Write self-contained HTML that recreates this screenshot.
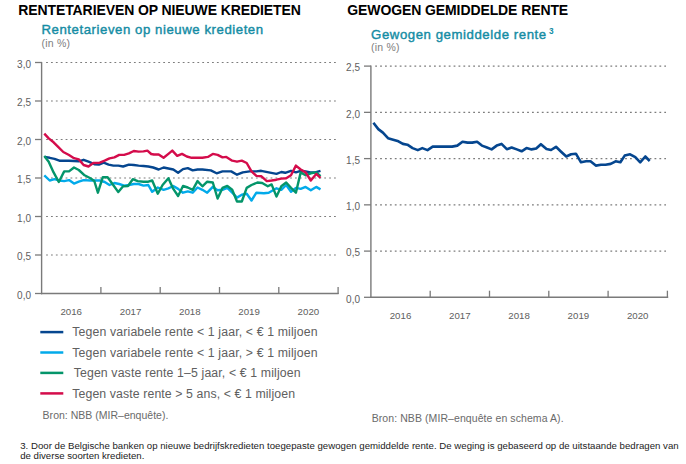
<!DOCTYPE html>
<html><head><meta charset="utf-8"><style>
html,body{margin:0;padding:0;background:#fff;width:686px;height:464px;overflow:hidden}
svg{display:block}
text{font-family:"Liberation Sans",sans-serif}
.ttl{font-size:14px;font-weight:bold;fill:#000}
.sub{font-size:13.2px;fill:#148ca4;stroke:#148ca4;stroke-width:0.4px}
.pct{font-size:10.5px;fill:#7e7e7e}
.ax{font-size:10px;fill:#606060}
.yr{font-size:9.7px;fill:#606060}
.lg{font-size:12.3px;fill:#606060}
.src{font-size:10.5px;fill:#6a6a6a}
.fn{font-size:9.65px;fill:#222}
</style></head><body>
<svg width="686" height="464" viewBox="0 0 686 464">
<rect width="686" height="464" fill="#fff"/>
<text x="18.2" y="14.9" class="ttl" textLength="282.7" lengthAdjust="spacing">RENTETARIEVEN OP NIEUWE KREDIETEN</text>
<text x="347.3" y="15" class="ttl" textLength="220.9" lengthAdjust="spacing">GEWOGEN GEMIDDELDE RENTE</text>
<text x="41.5" y="34.2" class="sub" textLength="221.6" lengthAdjust="spacing">Rentetarieven op nieuwe kredieten</text>
<text x="41.5" y="46.6" class="pct" textLength="28.5" lengthAdjust="spacing">(in %)</text>
<text x="371.1" y="38.5" class="sub" textLength="175" lengthAdjust="spacing">Gewogen gemiddelde rente</text>
<text x="549" y="34.4" style="font-size:8.3px;fill:#148ca4;font-weight:bold">3</text>
<text x="371.1" y="51" class="pct" textLength="28.5" lengthAdjust="spacing">(in %)</text>
<line x1="46.1" y1="62.5" x2="337" y2="62.5" stroke="#7c7c7c" stroke-width="1.1" stroke-dasharray="1.8 3.08"/>
<line x1="46.1" y1="101" x2="337" y2="101" stroke="#7c7c7c" stroke-width="1.1" stroke-dasharray="1.8 3.08"/>
<line x1="46.1" y1="139.5" x2="337" y2="139.5" stroke="#7c7c7c" stroke-width="1.1" stroke-dasharray="1.8 3.08"/>
<line x1="46.1" y1="178" x2="337" y2="178" stroke="#7c7c7c" stroke-width="1.1" stroke-dasharray="1.8 3.08"/>
<line x1="46.1" y1="216.5" x2="337" y2="216.5" stroke="#7c7c7c" stroke-width="1.1" stroke-dasharray="1.8 3.08"/>
<line x1="46.1" y1="255" x2="337" y2="255" stroke="#7c7c7c" stroke-width="1.1" stroke-dasharray="1.8 3.08"/>
<line x1="35" y1="62.5" x2="42" y2="62.5" stroke="#7a7a7a" stroke-width="1.3"/>
<line x1="35" y1="101" x2="42" y2="101" stroke="#7a7a7a" stroke-width="1.3"/>
<line x1="35" y1="139.5" x2="42" y2="139.5" stroke="#7a7a7a" stroke-width="1.3"/>
<line x1="35" y1="178" x2="42" y2="178" stroke="#7a7a7a" stroke-width="1.3"/>
<line x1="35" y1="216.5" x2="42" y2="216.5" stroke="#7a7a7a" stroke-width="1.3"/>
<line x1="35" y1="255" x2="42" y2="255" stroke="#7a7a7a" stroke-width="1.3"/>
<line x1="35" y1="293.5" x2="42" y2="293.5" stroke="#7a7a7a" stroke-width="1.3"/>
<text x="31" y="67.8" text-anchor="end" class="ax">3,0</text>
<text x="31" y="106.3" text-anchor="end" class="ax">2,5</text>
<text x="31" y="144.8" text-anchor="end" class="ax">2,0</text>
<text x="31" y="183.3" text-anchor="end" class="ax">1,5</text>
<text x="31" y="221.8" text-anchor="end" class="ax">1,0</text>
<text x="31" y="260.3" text-anchor="end" class="ax">0,5</text>
<text x="31" y="298.8" text-anchor="end" class="ax">0,0</text>
<line x1="41.6" y1="62" x2="41.6" y2="294.2" stroke="#7a7a7a" stroke-width="1.4"/>
<line x1="41" y1="293.5" x2="338.6" y2="293.5" stroke="#7a7a7a" stroke-width="1.4"/>
<line x1="100.9" y1="287" x2="100.9" y2="294" stroke="#7a7a7a" stroke-width="1.3"/>
<line x1="160.2" y1="287" x2="160.2" y2="294" stroke="#7a7a7a" stroke-width="1.3"/>
<line x1="219.5" y1="287" x2="219.5" y2="294" stroke="#7a7a7a" stroke-width="1.3"/>
<line x1="278.8" y1="287" x2="278.8" y2="294" stroke="#7a7a7a" stroke-width="1.3"/>
<line x1="338.1" y1="287" x2="338.1" y2="294" stroke="#7a7a7a" stroke-width="1.3"/>
<text x="71.2" y="314.6" text-anchor="middle" class="yr">2016</text>
<text x="130.6" y="314.6" text-anchor="middle" class="yr">2017</text>
<text x="189.8" y="314.6" text-anchor="middle" class="yr">2018</text>
<text x="249.1" y="314.6" text-anchor="middle" class="yr">2019</text>
<text x="308.4" y="314.6" text-anchor="middle" class="yr">2020</text>
<polyline points="44.3,156.9 49.7,157.8 54.5,158.8 59.4,160.7 69.0,160.7 78.8,161.3 83.6,159.8 88.5,161.7 94.3,164.2 98.9,164.6 103.7,162.7 108.6,164.6 113.4,165.6 118.3,165.6 123.1,166.5 128.9,164.6 133.8,165.0 138.6,165.6 143.5,166.0 148.3,166.5 153.2,167.5 158.7,169.5 163.6,167.5 168.4,168.5 173.3,169.5 178.1,172.8 183.0,169.1 187.8,168.1 192.7,170.4 197.5,169.5 202.4,169.5 210.8,170.4 216.6,173.3 222.5,171.4 231.2,171.4 237.0,174.7 242.8,172.4 249.6,171.4 256.4,171.4 261.2,170.8 268.7,172.4 276.5,173.9 281.3,172.0 285.2,172.8 291.0,170.8 295.9,172.4 300.7,170.8 305.6,171.4 310.4,172.4 315.3,172.4 320.5,170.8" fill="none" stroke="#05468f" stroke-width="2.4" stroke-linejoin="round"/>
<polyline points="44.3,175.3 49.7,180.5 54.5,179.2 59.4,180.5 64.2,181.1 69.0,180.1 74.0,183.6 78.8,181.7 83.6,180.1 90.4,180.5 99.8,180.5 104.7,182.0 109.5,185.0 114.4,183.0 119.2,184.0 124.1,185.6 128.9,185.0 133.8,184.0 138.6,184.0 143.5,185.6 148.3,185.0 152.2,191.8 157.8,187.5 163.6,189.8 168.4,188.3 173.3,186.0 178.1,188.9 183.0,192.7 187.8,191.4 192.7,192.7 197.5,187.5 202.4,189.8 207.2,192.7 212.8,186.9 217.6,190.2 222.5,189.8 227.3,187.9 232.2,192.7 237.0,197.6 241.8,194.7 246.7,193.7 251.5,200.5 256.4,192.7 263.9,193.3 268.7,192.7 276.5,188.3 281.3,189.8 286.2,185.0 291.0,191.8 295.9,187.9 300.7,188.9 305.6,186.9 310.8,190.2 316.2,186.9 320.5,189.4" fill="none" stroke="#02aaea" stroke-width="2.4" stroke-linejoin="round"/>
<polyline points="44.3,155.9 48.7,161.7 53.6,172.4 58.8,182.0 64.2,171.4 69.0,171.4 74.0,167.5 78.8,170.0 84.6,175.3 90.4,178.2 94.3,181.0 97.9,192.7 102.8,177.2 107.6,177.2 112.5,184.0 118.3,192.1 123.1,186.3 128.0,186.0 132.8,179.2 137.7,181.1 143.5,181.7 148.3,181.7 152.2,180.5 157.8,193.7 162.6,185.0 168.4,178.2 173.3,188.9 178.1,196.0 183.0,186.0 187.8,187.5 192.7,189.8 197.5,181.1 202.4,186.3 207.2,181.7 212.8,182.5 217.6,198.5 222.5,187.9 227.3,185.9 232.2,189.8 237.0,201.5 241.8,201.5 246.7,187.9 251.5,185.0 257.4,182.5 262.2,183.0 267.8,186.3 271.6,184.4 276.5,196.6 281.3,186.3 286.2,182.5 291.0,187.9 295.9,192.7 300.7,172.4 305.6,175.3 310.8,173.3 316.2,172.4 320.5,176.2" fill="none" stroke="#04956a" stroke-width="2.4" stroke-linejoin="round"/>
<polyline points="44.3,133.6 48.7,138.4 53.6,142.3 58.4,147.2 63.3,152.0 69.0,155.0 74.0,158.2 78.8,159.4 83.6,165.0 88.5,166.5 93.3,163.0 99.8,162.7 104.7,160.7 109.5,158.4 114.4,157.4 119.2,154.9 124.1,154.9 128.9,153.4 133.8,151.0 138.6,151.6 143.5,151.4 147.4,150.6 151.2,154.0 153.9,154.5 158.7,154.5 163.6,157.8 168.4,153.9 172.3,150.6 177.2,155.9 182.0,153.9 186.8,156.5 191.7,157.8 197.5,157.8 202.4,157.8 207.9,156.9 212.8,153.9 217.6,154.9 222.5,157.4 226.3,156.9 232.2,160.7 237.0,161.7 241.8,160.7 246.7,163.0 251.5,171.4 256.4,175.9 261.2,176.2 266.8,181.1 271.6,180.5 276.5,179.7 281.3,178.6 286.2,178.2 291.0,175.3 295.9,165.6 300.7,169.5 305.6,172.4 310.8,180.5 316.2,173.9 320.5,177.8" fill="none" stroke="#d40c4b" stroke-width="2.4" stroke-linejoin="round"/>
<line x1="375.2" y1="66.1" x2="666" y2="66.1" stroke="#7c7c7c" stroke-width="1.1" stroke-dasharray="1.8 3.1"/>
<line x1="375.2" y1="112.35" x2="666" y2="112.35" stroke="#7c7c7c" stroke-width="1.1" stroke-dasharray="1.8 3.1"/>
<line x1="375.2" y1="158.6" x2="666" y2="158.6" stroke="#7c7c7c" stroke-width="1.1" stroke-dasharray="1.8 3.1"/>
<line x1="375.2" y1="204.85" x2="666" y2="204.85" stroke="#7c7c7c" stroke-width="1.1" stroke-dasharray="1.8 3.1"/>
<line x1="375.2" y1="251.1" x2="666" y2="251.1" stroke="#7c7c7c" stroke-width="1.1" stroke-dasharray="1.8 3.1"/>
<line x1="364" y1="66.1" x2="371" y2="66.1" stroke="#7a7a7a" stroke-width="1.3"/>
<line x1="364" y1="112.35" x2="371" y2="112.35" stroke="#7a7a7a" stroke-width="1.3"/>
<line x1="364" y1="158.6" x2="371" y2="158.6" stroke="#7a7a7a" stroke-width="1.3"/>
<line x1="364" y1="204.85" x2="371" y2="204.85" stroke="#7a7a7a" stroke-width="1.3"/>
<line x1="364" y1="251.1" x2="371" y2="251.1" stroke="#7a7a7a" stroke-width="1.3"/>
<line x1="364" y1="297.3" x2="371" y2="297.3" stroke="#7a7a7a" stroke-width="1.3"/>
<text x="360" y="71.39999999999999" text-anchor="end" class="ax">2,5</text>
<text x="360" y="117.64999999999999" text-anchor="end" class="ax">2,0</text>
<text x="360" y="163.9" text-anchor="end" class="ax">1,5</text>
<text x="360" y="210.15" text-anchor="end" class="ax">1,0</text>
<text x="360" y="256.4" text-anchor="end" class="ax">0,5</text>
<text x="360" y="302.6" text-anchor="end" class="ax">0,0</text>
<line x1="370.9" y1="65.5" x2="370.9" y2="297.7" stroke="#7a7a7a" stroke-width="1.4"/>
<line x1="370.3" y1="297.3" x2="668.2" y2="297.3" stroke="#7a7a7a" stroke-width="1.4"/>
<line x1="430.2" y1="290.7" x2="430.2" y2="297.8" stroke="#7a7a7a" stroke-width="1.3"/>
<line x1="489.5" y1="290.7" x2="489.5" y2="297.8" stroke="#7a7a7a" stroke-width="1.3"/>
<line x1="548.8" y1="290.7" x2="548.8" y2="297.8" stroke="#7a7a7a" stroke-width="1.3"/>
<line x1="608.1" y1="290.7" x2="608.1" y2="297.8" stroke="#7a7a7a" stroke-width="1.3"/>
<line x1="667.4" y1="290.7" x2="667.4" y2="297.8" stroke="#7a7a7a" stroke-width="1.3"/>
<text x="400.5" y="318.6" text-anchor="middle" class="yr">2016</text>
<text x="459.8" y="318.6" text-anchor="middle" class="yr">2017</text>
<text x="519.1" y="318.6" text-anchor="middle" class="yr">2018</text>
<text x="578.4" y="318.6" text-anchor="middle" class="yr">2019</text>
<text x="637.7" y="318.6" text-anchor="middle" class="yr">2020</text>
<polyline points="373.4,122.7 378.3,129.1 382.9,132.6 388.0,138.2 393.2,139.7 398.4,141.3 402.9,143.9 407.4,144.7 412.6,148.1 417.8,150.1 422.3,148.1 427.5,150.1 432.7,146.6 437.8,146.6 452.1,146.6 457.3,145.6 462.5,141.7 467.6,142.6 472.2,142.6 477.1,141.7 481.9,145.6 486.4,147.2 491.6,149.4 496.7,145.6 501.5,143.9 506.8,149.2 511.6,147.5 516.8,149.4 521.6,151.3 526.5,148.1 531.6,149.4 536.2,148.5 540.9,144.2 546.5,149.1 551.0,150.0 556.0,146.8 561.1,151.7 566.3,156.5 571.1,154.3 575.9,153.7 581.0,162.3 586.0,161.3 590.5,161.3 595.8,165.6 601.0,164.7 605.5,164.7 610.7,163.9 615.6,161.3 620.4,162.3 624.7,155.6 630.1,154.3 635.3,157.2 640.2,162.3 645.3,156.5 649.7,161.0" fill="none" stroke="#05468f" stroke-width="2.6" stroke-linejoin="round"/>
<line x1="40.3" y1="332.1" x2="63.3" y2="332.1" stroke="#05468f" stroke-width="2.5"/>
<text x="72.3" y="336.3" class="lg" textLength="245.2" lengthAdjust="spacing">Tegen variabele rente &lt; 1 jaar, &lt; € 1 miljoen</text>
<line x1="40.3" y1="352.5" x2="63.3" y2="352.5" stroke="#02aaea" stroke-width="2.5"/>
<text x="72.3" y="356.7" class="lg" textLength="245.2" lengthAdjust="spacing">Tegen variabele rente &lt; 1 jaar, &gt; € 1 miljoen</text>
<line x1="40.3" y1="372.9" x2="63.3" y2="372.9" stroke="#04956a" stroke-width="2.5"/>
<text x="73.7" y="377.09999999999997" class="lg" textLength="226.8" lengthAdjust="spacing">Tegen vaste rente 1–5 jaar, &lt; € 1 miljoen</text>
<line x1="40.3" y1="393.4" x2="63.3" y2="393.4" stroke="#d40c4b" stroke-width="2.5"/>
<text x="72.3" y="397.59999999999997" class="lg" textLength="222.7" lengthAdjust="spacing">Tegen vaste rente &gt; 5 ans, &lt; € 1 miljoen</text>
<text x="42.6" y="418.6" class="src" textLength="125.75" lengthAdjust="spacing">Bron: NBB (MIR–enquête).</text>
<text x="371.7" y="422.3" class="src" textLength="191.9" lengthAdjust="spacing">Bron: NBB (MIR–enquête en schema A).</text>
<text x="20.2" y="449" class="fn" textLength="658.4" lengthAdjust="spacing">3. Door de Belgische banken op nieuwe bedrijfskredieten toegepaste gewogen gemiddelde rente. De weging is gebaseerd op de uitstaande bedragen van</text>
<text x="20.2" y="459.2" class="fn">de diverse soorten kredieten.</text>
</svg>
</body></html>
